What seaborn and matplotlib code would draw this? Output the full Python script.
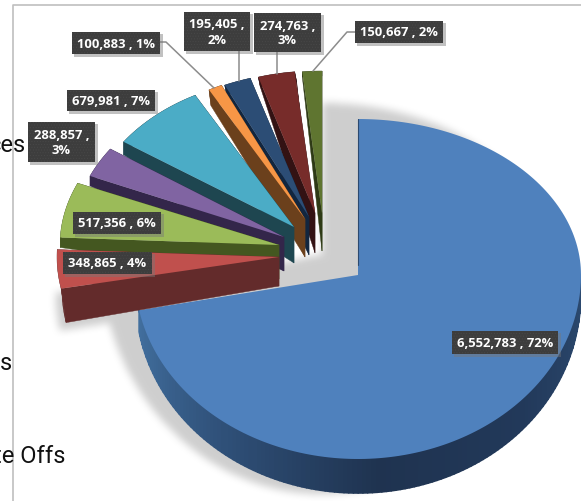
import numpy as np
import seaborn as sns
import matplotlib
matplotlib.use("Agg")
import matplotlib.pyplot as plt
from matplotlib.collections import PolyCollection
from matplotlib.patches import Polygon, Rectangle
from matplotlib.path import Path

# values
values = [6552783, 348865, 517356, 288857, 679981, 100883, 195405, 274763, 150667]
percents = [72, 4, 6, 3, 7, 1, 2, 3, 2]
label_lines = [1, 1, 1, 2, 1, 1, 2, 2, 1]
legend_bits = ["ces", "s", "te Offs"]

top_colors = ["#4f81bd", "#c0504d", "#9bbb59", "#8064a2", "#4bacc6",
              "#f79646", "#2c4d75", "#772c2a", "#5f7530"]
side_colors = ["#2c4a70", "#632b2b", "#445720", "#33264a", "#1e4650",
               "#6b401c", "#12263f", "#331213", "#2e3a15"]

# slice placement in pixels: apex x, apex y, rx, ry above, ry below
geometry = [
    (358, 276, 223, 156, 184),
    (279, 258, 222, 155, 165),
    (279, 246, 219, 157, 155),
    (284, 238, 211, 155, 155),
    (294, 228, 207, 150, 150),
    (305, 220, 201, 147, 147),
    (309, 218, 203, 145, 145),
    (315, 214, 196, 142, 142),
    (322, 214, 190, 142, 142),
]
# side wall: depth at apex, depth at rim, x shift at rim
walls = [(0, 34, 0), (29, 34, 5), (34, 10, 0), (34, 10, 0), (36, 13, 0),
         (38, 16, 2), (38, 10, 2), (40, 10, 2), (38, 5, 0)]

# label box: x0, y0, x1, y1
boxes = [(452, 332, 558, 355), (63, 253, 152, 275), (73, 213, 161, 235),
         (28, 123, 95, 163), (67, 91, 155, 112), (72, 33, 160, 55),
         (184, 13, 250, 52), (254, 14, 321, 53), (355, 22, 443, 44)]
leaders = {5: [(160, 43), (166, 43), (214, 89)],
           6: [(239, 52), (239, 82)],
           7: [(277, 53), (277, 75)],
           8: [(355, 33), (347, 33), (313, 72)]}

sns.set_theme(style="white")
plt.rcParams["font.family"] = ["Roboto", "DejaVu Sans"]

fig = plt.figure(figsize=(5.81, 5.02), dpi=100)
ax = fig.add_axes([0, 0, 1, 1])

# pie gives the angles, the tilted drawing below is built from them
wedges, _ = ax.pie(values, startangle=90, counterclock=False, radius=1)
thetas = [(w.theta1, w.theta2) for w in wedges]
for w in wedges:
    w.set_visible(False)
ax.set_aspect("auto")
ax.set_xlim(0, 581)
ax.set_ylim(502, 0)
ax.axis("off")


def rim(theta, geo):
    x0, y0, rx, up, down = geo
    t = np.radians(theta)
    s = np.sin(t)
    return np.column_stack([x0 + rx * np.cos(t), y0 - np.where(s > 0, up, down) * s])


def blur(img, size):
    kernel = np.hanning(size * 2 + 1)
    kernel = kernel / kernel.sum()
    img = np.apply_along_axis(lambda r: np.convolve(r, kernel, mode="same"), 0, img)
    return np.apply_along_axis(lambda r: np.convolve(r, kernel, mode="same"), 1, img)


# soft shadows behind the pie
gx, gy = np.meshgrid(np.arange(581) + 0.5, np.arange(502) + 0.5)
grid = np.column_stack([gx.ravel(), gy.ravel()])
t_blue = np.linspace(thetas[0][0], thetas[0][1], 200)
shadow_geo = (322, 255, 222, 151, 240)
blue_shadow = np.vstack([[shadow_geo[:2]], rim(t_blue, shadow_geo)])
mask = Path(blue_shadow).contains_points(grid).reshape(gx.shape).astype(float)
red_t = np.linspace(thetas[1][0], thetas[1][1], 40)
red_low = rim(red_t, geometry[1]) + [-1, 42]
red_shadow = np.vstack([[(281, 297)], red_low])
mask = np.maximum(mask, Path(red_shadow).contains_points(grid).reshape(gx.shape).astype(float))
mask = blur(mask, 10)
shade = np.zeros(gx.shape + (4,))
shade[..., :3] = 0.55
shade[..., 3] = mask * 0.42
ax.imshow(shade, extent=(0, 581, 502, 0), aspect="auto", zorder=1, interpolation="bilinear")

# frame of the original chart area
ax.plot([13, 13, 581], [502, 6, 6], color="#bfbfbf", lw=1.2, zorder=1.5)

# big slice: graded wall first, then the top
wall_t = np.linspace(thetas[0][0], 0, 140)
upper = rim(wall_t, geometry[0])
depth = 12 + 22 * np.sqrt(np.abs(np.sin(np.radians(wall_t))))
lower = upper + np.column_stack([np.zeros_like(depth), depth])
strips = [[upper[i], upper[i + 1], lower[i + 1], lower[i]] for i in range(len(wall_t) - 1)]
wall_cols = sns.blend_palette(["#42709f", "#2f5078", "#1f3350", "#22395a", "#2c4a70"], len(strips))
ax.add_collection(PolyCollection(strips, facecolors=wall_cols, edgecolors=wall_cols,
                                 linewidths=1.2, zorder=2))
pts = rim(np.linspace(*thetas[0], 200), geometry[0])
ax.add_patch(Polygon(np.vstack([[geometry[0][:2]], pts]), closed=True, fc=top_colors[0], ec="none", zorder=2.5))
x0, y0 = geometry[0][:2]
ax.plot([x0, x0], [y0 - geometry[0][3], y0 - 10], color="#2c4a70", lw=0.8, zorder=2.6)

# exploded slices, far ones first
z = 3
for i in range(len(values) - 1, 0, -1):
    geo = geometry[i]
    d_in, d_out, shift = walls[i]
    t = np.linspace(*thetas[i], 40)
    arc = rim(t, geo)
    apex = np.array(geo[:2], dtype=float)
    tip = apex + [0, d_in]
    arc_low = arc + [shift, d_out]
    for poly in ([apex, arc[0], arc_low[0], tip],
                 [apex, arc[-1], arc_low[-1], tip],
                 np.vstack([arc, arc_low[::-1]])):
        ax.add_patch(Polygon(poly, closed=True, fc=side_colors[i], ec=side_colors[i], lw=0.3, zorder=z))
    ax.add_patch(Polygon(np.vstack([apex, arc]), closed=True, fc=top_colors[i], ec="none", zorder=z + 0.1))
    z += 0.2

# leader lines
for pts in leaders.values():
    ax.plot(*zip(*pts), color="#8c8c8c", lw=1.1, zorder=6)

# data labels
plt.rcParams["hatch.linewidth"] = 0.4
for i, (v, p) in enumerate(zip(values, percents)):
    bx0, by0, bx1, by1 = boxes[i]
    ax.add_patch(Rectangle((bx0 + 2, by0 + 2), bx1 - bx0 + 1, by1 - by0 + 1, fc="#777777", ec="none", alpha=0.45, zorder=6.5))
    ax.add_patch(Rectangle((bx0, by0), bx1 - bx0, by1 - by0, fc="#3d3d3d", ec="#484848", hatch="......", lw=0, zorder=7))
    sep = " ,\n" if label_lines[i] == 2 else " , "
    ax.text((bx0 + bx1) / 2, (by0 + by1) / 2, f"{v:,}{sep}{p}%", color="white", fontsize=9.4,
            fontweight="bold", family=["Open Sans", "DejaVu Sans"], ha="center", va="center",
            linespacing=1.2, zorder=8)

# legend text cut off by the left edge of the picture
for txt, tx, ty in zip(legend_bits, [26, 12, 65], [146, 364, 457]):
    ax.text(tx, ty, txt, color="#111111", fontsize=17, ha="right", va="center", zorder=5)

fig.savefig("out.png", dpi=100)
